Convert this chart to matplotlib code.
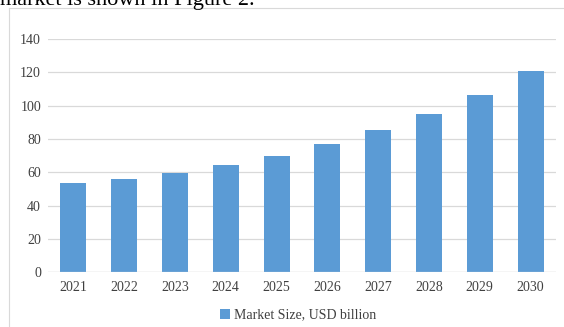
import matplotlib
matplotlib.use("Agg")
import matplotlib.pyplot as plt
from matplotlib.lines import Line2D

years = ["2021", "2022", "2023", "2024", "2025", "2026", "2027", "2028", "2029", "2030"]
market_size = [53.8, 56.2, 59.8, 64.4, 70.0, 76.7, 85.2, 94.8, 106.6, 120.6]
y_ticks = [0, 20, 40, 60, 80, 100, 120, 140]
legend_label = "Market Size, USD billion"
caption = "market is shown in Figure 2."

W, H = 564, 327
plt.rcParams['font.family'] = ['Liberation Serif', 'DejaVu Serif']
fig = plt.figure(figsize=(W / 100, H / 100), dpi=100)
fig.patch.set_facecolor('white')

# outer chart border (light gray frame)
fig.add_artist(Line2D([9 / W, 9 / W], [0, 1 - 8 / H], color='#d9d9d9', lw=0.8, transform=fig.transFigure))
fig.add_artist(Line2D([9 / W, 1], [1 - 8 / H, 1 - 8 / H], color='#d9d9d9', lw=0.8, transform=fig.transFigure))

# sentence from the surrounding page, clipped at the top edge as in the reference
fig.text(0 / W, 1 - 4.5 / H, caption, fontsize=16, color='black', ha='left', va='baseline')

ax = fig.add_axes([48 / W, (H - 272.3) / H, (556 - 48) / W, (272.3 - 39) / H])
x = list(range(len(years)))
bars = ax.bar(x, market_size, width=0.51, color='#5b9bd5', zorder=3, label=legend_label)
ax.set_xlim(-0.5, len(years) - 0.5)
ax.set_ylim(0, 140)
ax.set_yticks(y_ticks)
ax.set_xticks(x)
ax.set_xticklabels(years)
for s in ax.spines.values():
    s.set_visible(False)
ax.grid(axis='y', color='#d9d9d9', lw=0.9, zorder=0)
ax.tick_params(axis='both', length=0, labelsize=10, colors='#404040')
ax.tick_params(axis='y', pad=5)
ax.tick_params(axis='x', pad=6)
ax.axhline(0, color='#d9d9d9', lw=0.9, zorder=4)

leg = fig.legend(handles=[bars], labels=[legend_label], loc='center', bbox_to_anchor=(298 / W, 1 - 315 / H),
                 frameon=False, fontsize=10, handlelength=0.75, handleheight=0.75, handletextpad=0.25,
                 borderpad=0)
for t in leg.get_texts():
    t.set_color('#404040')

fig.savefig('out.png', dpi=100)
